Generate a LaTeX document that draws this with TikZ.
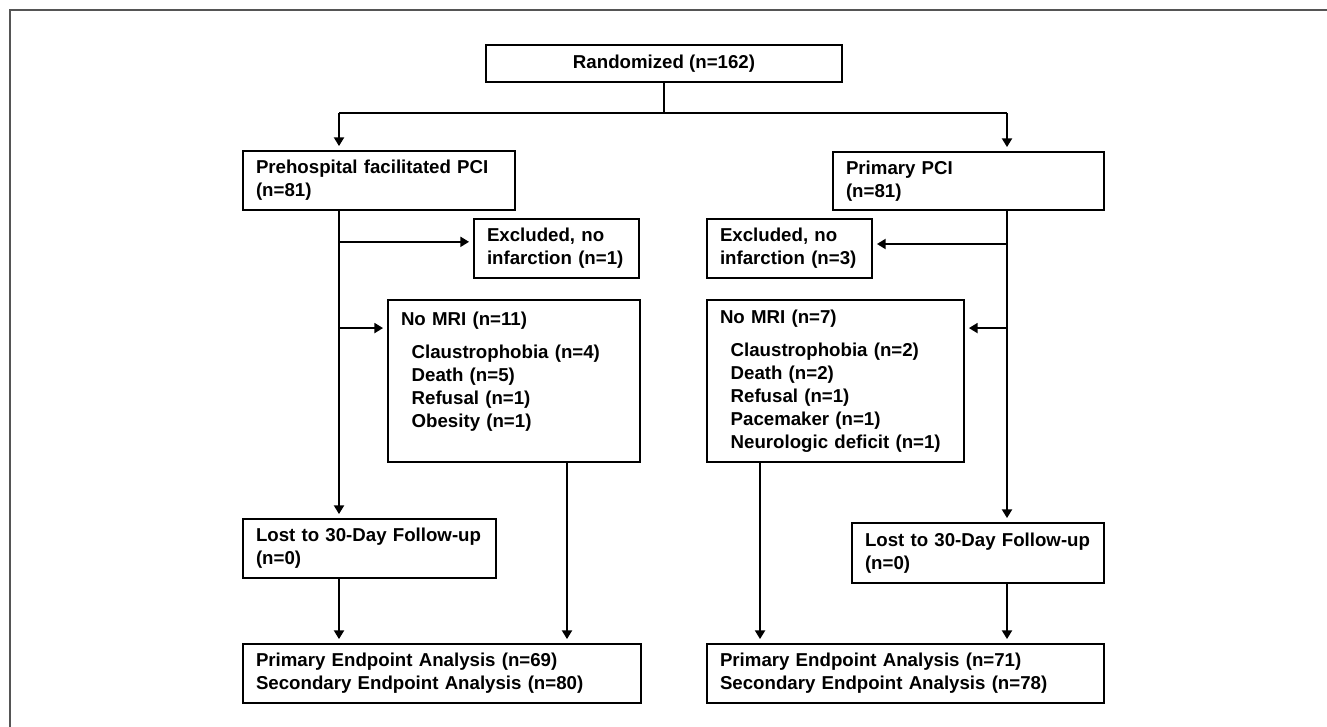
\documentclass[tikz,border=0pt]{standalone}
\usepackage{fontspec}
\setmainfont{Liberation Sans}
\usetikzlibrary{arrows.meta}

\newcommand\flowfont{\fontsize{14}{17.25}\selectfont\bfseries}
\definecolor{framegray}{RGB}{85,85,85}

\tikzset{
  box/.style={draw,rectangle,line width=1.4pt,inner xsep=9.75pt,inner ysep=0pt,align=left,font=\flowfont},
  arr/.style={line width=1.4pt,-{Triangle[length=6.5pt,width=7.5pt]},shorten >=3pt},
  link/.style={line width=1.4pt}
}

\begin{document}
\begin{tikzpicture}[x=0.75pt,y=-0.75pt]
  \useasboundingbox (0,0) rectangle (1327,727);
  \draw[framegray,line width=1.2pt] (10,727) -- (10,10) -- (1327,10);

  \node[box,align=center,minimum width=267pt,minimum height=27.75pt] (rand) at (664,63.5) {Randomized (n=162)};

  % left arm
  \node[box,minimum width=204pt,text width=184.5pt,minimum height=44.25pt] (pre) at (379,180.5) {Prehospital facilitated PCI\\(n=81)};
  \node[box,minimum width=123.75pt,text width=104.25pt,minimum height=44.25pt] (excl1) at (556.5,248.5) {Excluded, no\\infarction (n=1)};
  \node[box,minimum width=189pt,text width=169.5pt,minimum height=121.5pt] (mri1) at (514,381) {No MRI (n=11)\\[7.5pt]
    \hspace*{8pt}Claustrophobia (n=4)\\
    \hspace*{8pt}Death (n=5)\\
    \hspace*{8pt}Refusal (n=1)\\
    \hspace*{8pt}Obesity (n=1)\\
    ~};
  \node[box,minimum width=189.75pt,text width=170.25pt,minimum height=44.25pt] (lost1) at (369.5,548.5) {Lost to 30-Day Follow-up\\(n=0)};
  \node[box,minimum width=298.5pt,text width=279pt,minimum height=44.25pt] (end1) at (442,673.5) {Primary Endpoint Analysis (n=69)\\Secondary Endpoint Analysis (n=80)};

  % right arm
  \node[box,minimum width=203.25pt,text width=183.75pt,minimum height=43.5pt] (prim) at (968.5,181) {Primary PCI\\(n=81)};
  \node[box,minimum width=123.75pt,text width=104.25pt,minimum height=44.25pt] (excl2) at (789.5,248.5) {Excluded, no\\infarction (n=3)};
  \node[box,minimum width=192.75pt,text width=173.25pt,minimum height=121.5pt] (mri2) at (835.5,381) {No MRI (n=7)\\[7.5pt]
    \hspace*{8pt}Claustrophobia (n=2)\\
    \hspace*{8pt}Death (n=2)\\
    \hspace*{8pt}Refusal (n=1)\\
    \hspace*{8pt}Pacemaker (n=1)\\
    \hspace*{8pt}Neurologic deficit (n=1)};
  \node[box,minimum width=189pt,text width=169.5pt,minimum height=45pt] (lost2) at (978,553) {Lost to 30-Day Follow-up\\(n=0)};
  \node[box,minimum width=297.75pt,text width=278.25pt,minimum height=44.25pt] (end2) at (905.5,673.5) {Primary Endpoint Analysis (n=71)\\Secondary Endpoint Analysis (n=78)};

  \coordinate (lfork) at (339,113);
  \coordinate (rfork) at (1007,113);

  \draw[link] (rand) -- (rand |- lfork);
  \draw[link] (lfork) -- (rfork);
  \draw[arr] (lfork) -- (lfork |- pre.north);
  \draw[arr] (rfork) -- (rfork |- prim.north);

  \draw[arr] (lfork |- pre.south) -- (lfork |- lost1.north);
  \draw[arr] ([yshift=5pt]lfork |- excl1.west) -- ([yshift=5pt]excl1.west);
  \draw[arr] ([yshift=-21.75pt]lfork |- mri1.north) -- ([yshift=-21.75pt]mri1.north west);
  \draw[arr] (lfork |- lost1.south) -- (lfork |- end1.north);
  \draw[arr] ([xshift=39.75pt]mri1.south) -- ([xshift=39.75pt]mri1.south |- end1.north);

  \draw[arr] (rfork |- prim.south) -- (rfork |- lost2.north);
  \draw[arr] ([yshift=3.375pt]rfork |- excl2.east) -- ([yshift=3.375pt]excl2.east);
  \draw[arr] ([yshift=-21.75pt]rfork |- mri2.north) -- ([yshift=-21.75pt]mri2.north east);
  \draw[arr] (rfork |- lost2.south) -- (rfork |- end2.north);
  \draw[arr] ([xshift=-56.6pt]mri2.south) -- ([xshift=-56.6pt]mri2.south |- end2.north);
\end{tikzpicture}
\end{document}
